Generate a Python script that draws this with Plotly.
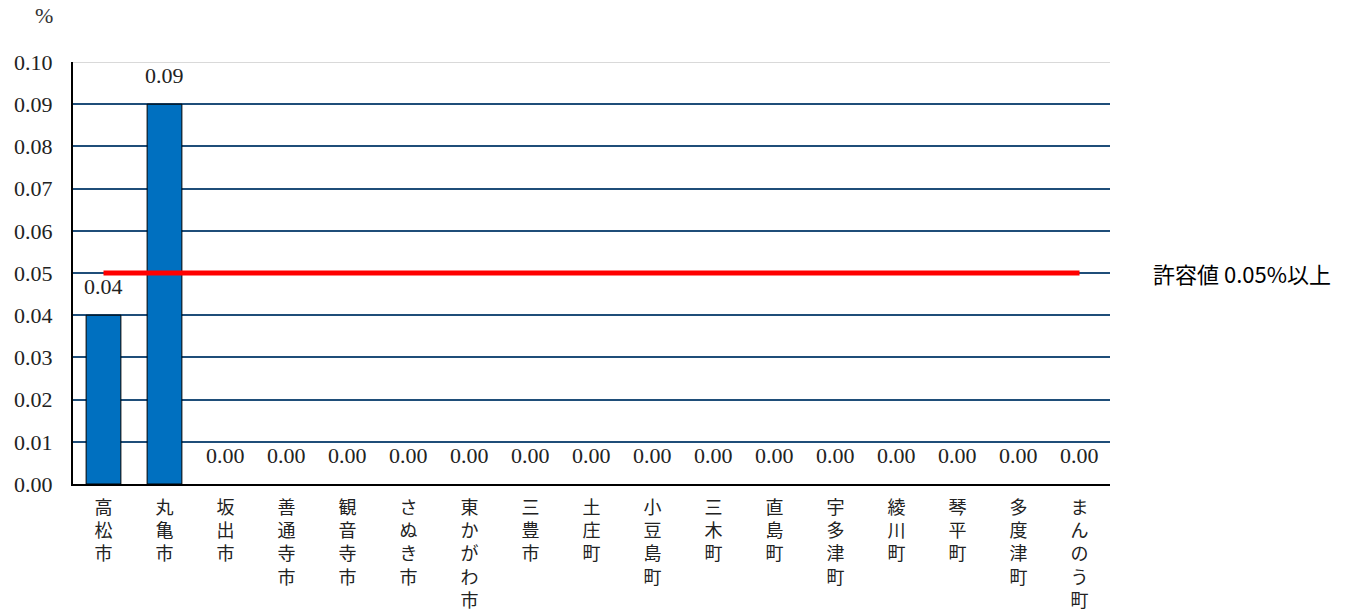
import plotly.graph_objects as go

categories = ["高松市", "丸亀市", "坂出市", "善通寺市", "観音寺市", "さぬき市", "東かがわ市",
              "三豊市", "土庄町", "小豆島町", "三木町", "直島町", "宇多津町", "綾川町",
              "琴平町", "多度津町", "まんのう町"]
values = [0.04, 0.09, 0.00, 0.00, 0.00, 0.00, 0.00, 0.00, 0.00, 0.00, 0.00, 0.00,
          0.00, 0.00, 0.00, 0.00, 0.00]
limit_name = "許容値 0.05%以上"
limit_values = [0.05] * len(categories)
y_ticks = [0.00, 0.01, 0.02, 0.03, 0.04, 0.05, 0.06, 0.07, 0.08, 0.09, 0.10]

serif = "Liberation Serif, Noto Sans CJK JP, serif"
tick_text = ["<br>".join(list(c)) for c in categories]

fig = go.Figure()
fig.add_trace(go.Bar(
    x=categories, y=values,
    marker=dict(color="#0070C0",
                line=dict(color="black", width=[1 if v > 0 else 0 for v in values])),
    showlegend=False,
))
fig.add_trace(go.Scatter(
    x=categories, y=limit_values, mode="lines", name=limit_name,
    line=dict(color="#FF0000", width=5), showlegend=False,
))

for c, v in zip(categories, values):
    fig.add_annotation(x=c, y=v, text=f"{v:.2f}", showarrow=False,
                       yanchor="bottom", yshift=14,
                       font=dict(family=serif, size=22, color="#222"))

fig.add_annotation(xref="paper", yref="y", x=1.04, y=0.05, xanchor="left",
                   text=limit_name, showarrow=False,
                   font=dict(family="Noto Sans CJK JP", size=22, color="black"))
fig.add_annotation(xref="paper", yref="paper", x=-0.028, y=1.0, yshift=47,
                   xanchor="center", yanchor="middle", text="%", showarrow=False,
                   font=dict(family=serif, size=22, color="#333"))

fig.update_layout(
    width=1352, height=611,
    margin=dict(l=73, r=242, t=62, b=127),
    paper_bgcolor="white", plot_bgcolor="white",
    bargap=0.43,
    xaxis=dict(tickvals=categories, ticktext=tick_text, tickangle=0,
               tickfont=dict(family="Noto Sans CJK JP", size=18, color="#222"),
               showline=True, linecolor="black", linewidth=2,
               showgrid=False, ticks="", automargin=False,
               ticklabelstandoff=6),
    yaxis=dict(range=[0, 0.10], tickvals=y_ticks, tickformat=".2f",
               tickfont=dict(family=serif, size=22, color="#222"),
               showline=True, linecolor="black", linewidth=2,
               showgrid=True, gridcolor="#1F4E79", gridwidth=2,
               zeroline=False, ticks="", automargin=False,
               ticklabelstandoff=14),
    font=dict(family=serif),
)
fig.add_shape(type="line", xref="paper", yref="y", x0=0, x1=1, y0=0.10, y1=0.10,
              line=dict(color="#D9D9D9", width=2), layer="above")

fig.write_html("out.html")
